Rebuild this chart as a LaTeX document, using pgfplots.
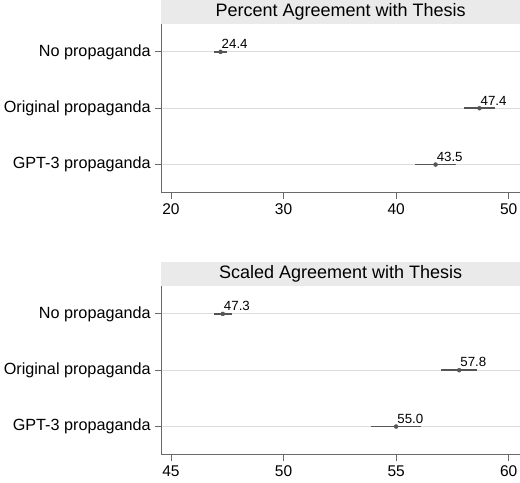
\documentclass[border=0pt]{standalone}
\usepackage{fontspec}
\setmainfont{Liberation Sans}
\usepackage{pgfplots}
\pgfplotsset{compat=1.18}
\definecolor{stripgray}{RGB}{234,234,234}
\definecolor{axgray}{RGB}{105,105,105}
\definecolor{gridgray}{RGB}{220,220,220}
\definecolor{errgray}{RGB}{85,85,85}
\pgfplotsset{
  panel/.style={
    scale only axis, width=358.7bp, height=169bp,
    ymin=0.5, ymax=3.5, y dir=reverse,
    ytick={1,2,3},
    yticklabels={No propaganda, Original propaganda, GPT-3 propaganda},
    axis x line*=bottom, axis y line*=left,
    axis line style={-, color=axgray, line width=1.1bp},
    tick style={color=axgray, line width=0.8bp},
    tick align=outside, major tick length=6bp,
    ymajorgrids, grid style={color=gridgray, line width=0.9bp},
    yticklabel style={font=\fontsize{16.2bp}{19bp}\selectfont, inner sep=4.5bp},
    xticklabel style={font=\fontsize{15.5bp}{18bp}\selectfont, yshift=-1.5bp},
    /pgf/number format/assume math mode=true,
    every axis title shift=0pt,
    title style={at={(0.5,1)}, anchor=south, yshift=0pt, fill=stripgray,
      minimum width=358.7bp, minimum height=23.5bp, inner sep=0pt,
      font=\fontsize{18bp}{20bp}\selectfont},
    clip=false,
  },
  est/.style={
    only marks, mark=*, mark size=2bp, color=errgray,
    mark options={fill=errgray, draw=errgray},
    error bars/x dir=both, error bars/x explicit, error bars/error mark=none,
    error bars/error bar style={line width=1.6bp, color=errgray},
  },
  vals/.style={
    point meta=explicit symbolic, nodes near coords,
    every node near coord/.append style={anchor=south west, inner sep=1bp,
      yshift=2bp, xshift=0bp, color=black,
      font=\fontsize{13.3bp}{15bp}\selectfont},
  },
}
\begin{document}
\begin{tikzpicture}
\begin{axis}[panel, title={Percent Agreement with Thesis},
  xmin=19.14, xmax=51, xtick={20,30,40,50}]
\addplot[est, vals] table[x=x, y=y, x error=ex, meta=lab, row sep=\\] {
x y ex lab \\
24.4 1 0.62 24.4 \\
47.4 2 1.35 47.4 \\
43.5 3 1.80 43.5 \\
};
\end{axis}
\begin{axis}[panel, at={(0,-262bp)}, title={Scaled Agreement with Thesis},
  xmin=44.57, xmax=60.5, xtick={45,50,55,60}]
\addplot[est, vals] table[x=x, y=y, x error=ex, meta=lab, row sep=\\] {
x y ex lab \\
47.3 1 0.40 47.3 \\
57.8 2 0.80 57.8 \\
55.0 3 1.10 55.0 \\
};
\end{axis}
\pgfresetboundingbox
\path[use as bounding box] (-161.3bp,-290.3bp) rectangle (358.7bp,192.7bp);
\end{tikzpicture}
\end{document}
